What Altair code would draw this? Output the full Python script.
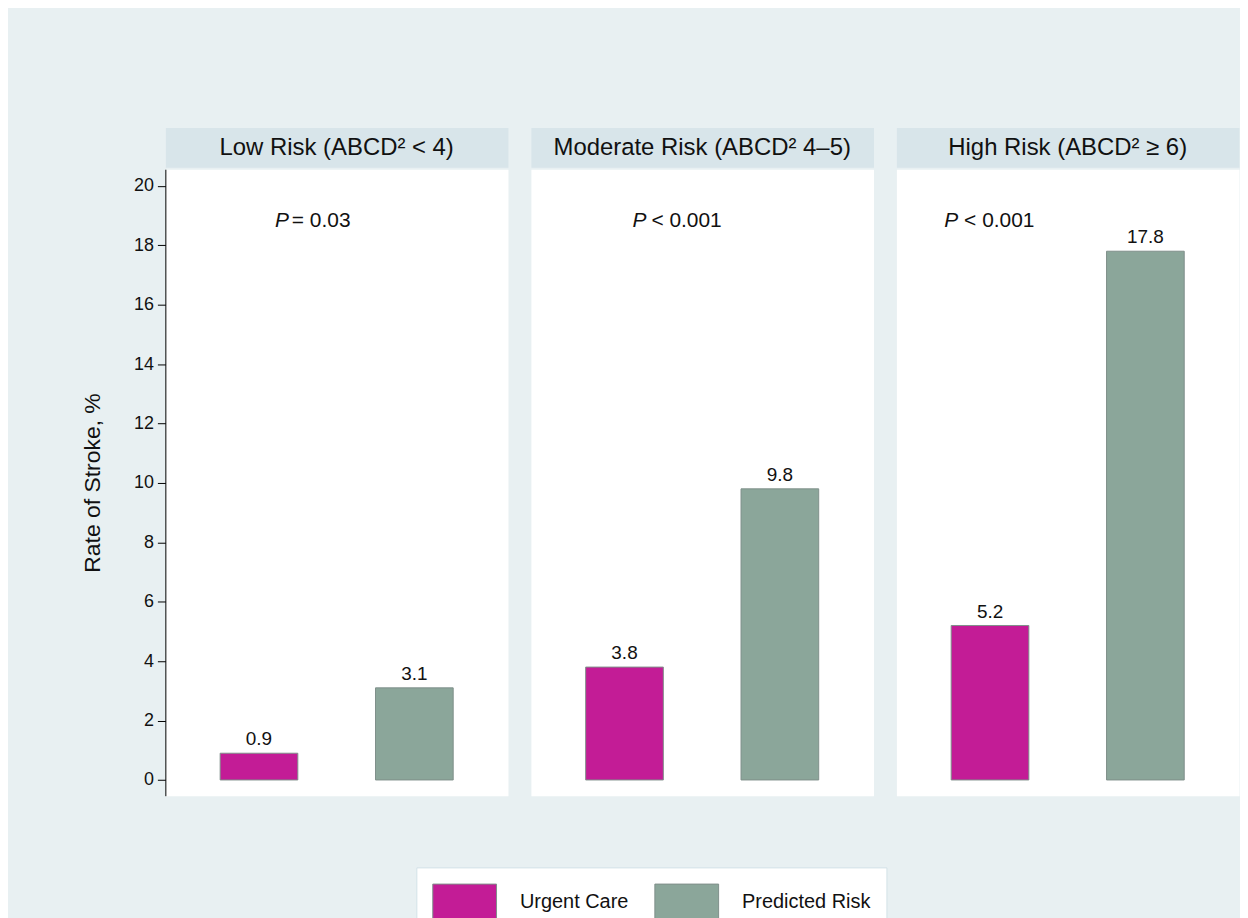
import altair as alt
import pandas as pd

# ---------------- data ----------------
panel_titles = ["Low Risk (ABCD\u00b2 < 4)", "Moderate Risk (ABCD\u00b2 4\u20135)", "High Risk (ABCD\u00b2 \u2265 6)"]
groups = ["Urgent Care", "Predicted Risk"]
urgent_care = [0.9, 3.8, 5.2]
predicted_risk = [3.1, 9.8, 17.8]
p_ops = ["=", "<", "<"]
p_vals = ["0.03", "0.001", "0.001"]
y_ticks = [0, 2, 4, 6, 8, 10, 12, 14, 16, 18, 20]
p_text_level = 18.8

# ---------------- style / layout ----------------
FONT = "Liberation Sans"
BG = "#E8F0F2"
HEADER_BG = "#D8E5EA"
COLORS = ["#C31C96", "#8BA69A"]
BAR_STROKE = "#7F8F8A"
TXT = "#111111"
PW, HH, PH = 344, 40, 629
p_x = [110, 102, 48]     # pixel offset of the "P" annotation within each panel
p_gap = [17, 19, 20]

yscale = alt.Scale(domain=[-0.53, 20.56], nice=False, zero=False)
xscale = alt.Scale(domain=groups, paddingInner=0.5, paddingOuter=0.3526)
cscale = alt.Scale(domain=groups, range=COLORS)

# swatch 64x36: size 36^2 gives a 36px entry height, path stretched to the right
legend = alt.Legend(
    title=None, orient="none", direction="horizontal",
    legendX=252, legendY=743,
    fillColor="white", strokeColor="#D3E2E8", padding=16,
    symbolType="M-1,-1H2.5556V1H-1Z", symbolSize=1296,
    symbolStrokeColor=BAR_STROKE, symbolStrokeWidth=1, symbolOpacity=1,
    labelFont=FONT, labelFontSize=20, labelColor=TXT, labelOffset=51,
    columnPadding=24, labelLimit=300,
)


def y_axis(i):
    if i != 0:
        return None
    return alt.Axis(
        values=y_ticks, title="Rate of Stroke, %", titleFont=FONT, titleFontSize=23,
        titleFontWeight="normal", titleColor=TXT, titlePadding=29,
        labelFont=FONT, labelFontSize=18, labelColor=TXT, labelPadding=4,
        tickSize=8, tickColor="black", tickWidth=1, domainColor="black", domainWidth=1,
        grid=False,
    )


def make_panel(i):
    df = pd.DataFrame({"group": groups, "value": [urgent_care[i], predicted_risk[i]]})
    ax = y_axis(i)
    base = alt.Chart(df)
    x_enc = alt.X("group:N", scale=xscale, axis=None, sort=groups)
    y_enc = alt.Y("value:Q", scale=yscale, axis=ax)
    bars = base.mark_bar(stroke=BAR_STROKE, strokeWidth=1).encode(
        x=x_enc, y=y_enc,
        color=alt.Color("group:N", scale=cscale, sort=groups, legend=legend if i == 0 else None),
    )
    labels = base.mark_text(baseline="bottom", dy=-4, font=FONT, fontSize=19, color=TXT).encode(
        x=x_enc, y=y_enc, text=alt.Text("value:Q", format=".1f"),
    )
    pdf = pd.DataFrame({"value": [p_text_level], "a": ["P"], "b": [f"{p_ops[i]} {p_vals[i]}"]})
    pt1 = alt.Chart(pdf).mark_text(align="left", baseline="middle", font=FONT, fontSize=21,
                                   fontStyle="italic", color=TXT).encode(
        x=alt.value(p_x[i]), y=alt.Y("value:Q", scale=yscale, axis=ax), text="a:N")
    pt2 = alt.Chart(pdf).mark_text(align="left", baseline="middle", font=FONT, fontSize=21,
                                   color=TXT).encode(
        x=alt.value(p_x[i] + p_gap[i]), y=alt.Y("value:Q", scale=yscale, axis=ax), text="b:N")
    plot = alt.layer(bars, labels, pt1, pt2).properties(
        width=PW, height=PH, view=alt.ViewBackground(fill="white", stroke="transparent"))

    hdf = pd.DataFrame({"t": [panel_titles[i]]})
    header = alt.Chart(hdf).mark_text(baseline="middle", align="center", font=FONT, fontSize=24,
                                      color=TXT).encode(
        text="t:N", x=alt.value(PW / 2), y=alt.value(HH / 2 + 1)).properties(
        width=PW, height=HH, view=alt.ViewBackground(fill=HEADER_BG, stroke="transparent"))
    return alt.vconcat(header, plot, spacing=0)


chart = alt.hconcat(*[make_panel(i) for i in range(3)], spacing=21).properties(
    background=BG,
    padding={"left": 73, "top": 117, "right": 0, "bottom": 0},
)

chart.save("out.html", embed_options={"renderer": "svg", "actions": False})
